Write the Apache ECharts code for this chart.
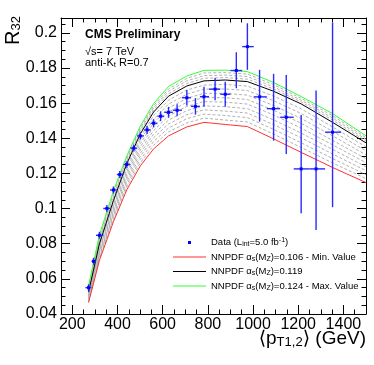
<!DOCTYPE html>
<html>
<head>
<meta charset="utf-8">
<script src="https://cdn.jsdelivr.net/npm/echarts@6/dist/echarts.min.js"></script>
<style>
html, body { margin: 0; padding: 0; background: #fff; }
#chart { width: 374px; height: 365px; }
</style>
</head>
<body>
<div id="chart"></div>
<script>
// measured points: <pT1,2> (GeV), R32, bin edges and asymmetric errors
const dataX = [272, 294, 320, 353, 382, 410, 441, 472, 501, 531, 560, 591, 626, 664, 707, 745, 783, 832, 877, 926, 975, 1029, 1091, 1147, 1213, 1279, 1352];
const dataY = [0.0550, 0.0700, 0.0848, 0.1001, 0.1106, 0.1194, 0.1251, 0.1344, 0.1414, 0.1448, 0.1486, 0.1526, 0.1548, 0.1560, 0.1631, 0.1582, 0.1637, 0.1680, 0.1651, 0.1786, 0.1922, 0.1636, 0.1569, 0.1520, 0.1226, 0.1226, 0.1435];
const binEdges = [258, 285, 305, 337, 367, 397, 427, 457, 487, 517, 547, 577, 607, 645, 685, 725, 765, 805, 855, 900, 952, 1003, 1061, 1120, 1180, 1250, 1319, 1390];
const errUp = [0.0020, 0.0020, 0.0020, 0.0020, 0.0020, 0.0020, 0.0019, 0.0019, 0.0021, 0.0023, 0.0023, 0.0028, 0.0031, 0.0034, 0.0044, 0.0047, 0.0057, 0.0063, 0.0071, 0.0104, 0.0133, 0.0154, 0.0198, 0.0241, 0.0307, 0.0446, 0.0624];
const errDown = [0.0020, 0.0020, 0.0020, 0.0020, 0.0020, 0.0020, 0.0019, 0.0019, 0.0021, 0.0023, 0.0023, 0.0028, 0.0031, 0.0034, 0.0044, 0.0047, 0.0057, 0.0063, 0.0071, 0.0101, 0.0132, 0.0141, 0.0182, 0.0209, 0.0253, 0.0348, 0.0427];

// NNPDF predictions
const thX = [272, 320, 382, 441, 501, 560, 626, 707, 783, 877, 975, 1091, 1213, 1352, 1500];
const nnpdfMin = [0.0465, 0.0705, 0.0925, 0.1106, 0.1243, 0.1340, 0.1414, 0.1465, 0.1491, 0.1479, 0.1467, 0.1397, 0.1320, 0.1234, 0.1148];
const nnpdfCentral = [0.0525, 0.0800, 0.1045, 0.1255, 0.1425, 0.1550, 0.1640, 0.1698, 0.1727, 0.1732, 0.1723, 0.1668, 0.1596, 0.1491, 0.1374];
const nnpdfMax = [0.0560, 0.0850, 0.1100, 0.1300, 0.1470, 0.1598, 0.1695, 0.1755, 0.1787, 0.1788, 0.1780, 0.1718, 0.1638, 0.1541, 0.1414];
const nnpdfOther = [
  [0.0471, 0.0715, 0.0937, 0.1121, 0.1261, 0.1361, 0.1437, 0.1488, 0.1515, 0.1504, 0.1493, 0.1424, 0.1348, 0.1260, 0.1171],
  [0.0477, 0.0724, 0.0949, 0.1136, 0.1279, 0.1382, 0.1459, 0.1512, 0.1538, 0.1530, 0.1518, 0.1451, 0.1375, 0.1285, 0.1193],
  [0.0483, 0.0734, 0.0961, 0.1151, 0.1298, 0.1403, 0.1482, 0.1535, 0.1562, 0.1555, 0.1544, 0.1478, 0.1403, 0.1311, 0.1216],
  [0.0489, 0.0743, 0.0973, 0.1166, 0.1316, 0.1424, 0.1504, 0.1558, 0.1585, 0.1580, 0.1569, 0.1505, 0.1430, 0.1337, 0.1238],
  [0.0495, 0.0753, 0.0985, 0.1181, 0.1334, 0.1445, 0.1527, 0.1582, 0.1609, 0.1606, 0.1595, 0.1533, 0.1458, 0.1363, 0.1261],
  [0.0501, 0.0762, 0.0997, 0.1195, 0.1352, 0.1466, 0.1550, 0.1605, 0.1633, 0.1631, 0.1621, 0.1560, 0.1486, 0.1388, 0.1284],
  [0.0507, 0.0772, 0.1009, 0.1210, 0.1370, 0.1487, 0.1572, 0.1628, 0.1656, 0.1656, 0.1646, 0.1587, 0.1513, 0.1414, 0.1306],
  [0.0513, 0.0781, 0.1021, 0.1225, 0.1389, 0.1508, 0.1595, 0.1651, 0.1680, 0.1681, 0.1672, 0.1614, 0.1541, 0.1440, 0.1329],
  [0.0519, 0.0791, 0.1033, 0.1240, 0.1407, 0.1529, 0.1617, 0.1675, 0.1703, 0.1707, 0.1697, 0.1641, 0.1568, 0.1465, 0.1351],
  [0.0534, 0.0813, 0.1059, 0.1266, 0.1436, 0.1562, 0.1654, 0.1712, 0.1742, 0.1746, 0.1737, 0.1681, 0.1607, 0.1504, 0.1384],
  [0.0543, 0.0825, 0.1073, 0.1278, 0.1448, 0.1574, 0.1668, 0.1727, 0.1757, 0.1760, 0.1752, 0.1693, 0.1617, 0.1516, 0.1394],
  [0.0551, 0.0838, 0.1086, 0.1289, 0.1459, 0.1586, 0.1681, 0.1741, 0.1772, 0.1774, 0.1766, 0.1706, 0.1628, 0.1529, 0.1404]
];

const xTickLabels = [200, 400, 600, 800, 1000, 1200, 1400];

const FONT = "'Liberation Sans', Arial, 'DejaVu Sans', sans-serif";

let chart = echarts.init(document.getElementById('chart'));

function curve(ys) {
  return thX.map(function (x, i) { return [x, ys[i]]; });
}

let series = [];
nnpdfOther.forEach(function (ys, k) {
  series.push({
    name: 'other' + k,
    type: 'line',
    data: curve(ys),
    symbol: 'none',
    silent: true,
    lineStyle: { color: '#b2b2b2', width: 1, type: [3, 2] },
    z: 2
  });
});
series.push({ name: 'min', type: 'line', data: curve(nnpdfMin), symbol: 'none', lineStyle: { color: '#ff3030', width: 1 }, itemStyle: { color: '#ff3030' }, z: 3 });
series.push({ name: 'central', type: 'line', data: curve(nnpdfCentral), symbol: 'none', lineStyle: { color: '#000', width: 1 }, itemStyle: { color: '#000' }, z: 3 });
series.push({ name: 'max', type: 'line', data: curve(nnpdfMax), symbol: 'none', lineStyle: { color: '#33ff33', width: 1 }, itemStyle: { color: '#33ff33' }, z: 3 });

// data points with x (bin) and y error bars
series.push({
  name: 'data',
  type: 'custom',
  itemStyle: { color: '#0000ff' },
  data: dataX.map(function (x, i) {
    return [x, dataY[i], binEdges[i], binEdges[i + 1], dataY[i] - errDown[i], dataY[i] + errUp[i]];
  }),
  encode: { x: 0, y: 1 },
  renderItem: function (params, api) {
    let c = api.coord([api.value(0), api.value(1)]);
    let l = api.coord([api.value(2), api.value(1)]);
    let r = api.coord([api.value(3), api.value(1)]);
    let b = api.coord([api.value(0), api.value(4)]);
    let t = api.coord([api.value(0), api.value(5)]);
    let st = { stroke: '#2a2aff', lineWidth: 1.4 };
    return {
      type: 'group',
      children: [
        { type: 'line', shape: { x1: l[0], y1: c[1], x2: r[0], y2: c[1] }, style: st },
        { type: 'line', shape: { x1: c[0], y1: t[1], x2: c[0], y2: b[1] }, style: st },
        { type: 'rect', shape: { x: c[0] - 1.5, y: c[1] - 1.5, width: 3, height: 3 }, style: { fill: '#0000ff' } }
      ]
    };
  },
  z: 20
});

const tickLine = { color: '#000', width: 1 };
const subStyle = { fontSize: 7, fontFamily: FONT, verticalAlign: 'bottom', lineHeight: 8, color: '#000' };
const supStyle = { fontSize: 7, fontFamily: FONT, verticalAlign: 'top', lineHeight: 8, color: '#000' };
const legendText = {
  data: 'Data (L{s|int}=5.0 fb{p|-1})',
  min: 'NNPDF α{s|s}(M{s|Z})=0.106 - Min. Value',
  central: 'NNPDF α{s|s}(M{s|Z})=0.119',
  max: 'NNPDF α{s|s}(M{s|Z})=0.124 - Max. Value'
};
const lineIcon = 'path://M0,0M33,10M0,4.5h33v1h-33z';

let option = {
  animation: false,
  backgroundColor: '#fff',
  grid: { left: 61, right: 8, top: 18, bottom: 51 },
  xAxis: [
    {
      type: 'value', position: 'bottom', min: 150, max: 1500, interval: 50,
      axisLine: { show: true, lineStyle: tickLine },
      axisTick: { show: true, inside: true, length: 4.5, lineStyle: tickLine },
      axisLabel: {
        customValues: xTickLabels, fontSize: 16, fontFamily: FONT, color: '#000', margin: 3,
        formatter: function (v) { return String(v); }
      },
      splitLine: { show: false }
    },
    {
      type: 'value', position: 'bottom', min: 150, max: 1500, interval: 50,
      axisLine: { show: false },
      axisTick: { show: true, inside: true, length: 9, customValues: xTickLabels, lineStyle: tickLine },
      axisLabel: { show: false },
      splitLine: { show: false }
    },
    {
      type: 'value', position: 'top', min: 150, max: 1500, interval: 50,
      axisLine: { show: true, lineStyle: tickLine },
      axisTick: { show: true, inside: true, length: 4.5, lineStyle: tickLine },
      axisLabel: { show: false },
      splitLine: { show: false }
    },
    {
      type: 'value', position: 'top', min: 150, max: 1500, interval: 50,
      axisLine: { show: false },
      axisTick: { show: true, inside: true, length: 9, customValues: xTickLabels, lineStyle: tickLine },
      axisLabel: { show: false },
      splitLine: { show: false }
    }
  ],
  yAxis: [
    {
      type: 'value', position: 'left', min: 0.04, max: 0.2085, interval: 0.02,
      axisLine: { show: true, lineStyle: tickLine },
      axisTick: { show: true, inside: true, length: 9, lineStyle: tickLine },
      minorTick: { show: true, splitNumber: 4, length: 4.5, lineStyle: tickLine },
      axisLabel: {
        fontSize: 16, fontFamily: FONT, color: '#000', margin: 4, showMaxLabel: false,
        formatter: function (v) { return String(+v.toFixed(3)); }
      },
      splitLine: { show: false }
    },
    {
      type: 'value', position: 'right', min: 0.04, max: 0.2085, interval: 0.02,
      axisLine: { show: true, lineStyle: tickLine },
      axisTick: { show: true, inside: true, length: 9, lineStyle: tickLine },
      minorTick: { show: true, splitNumber: 4, length: 4.5, lineStyle: tickLine },
      axisLabel: { show: false },
      splitLine: { show: false }
    }
  ],
  legend: {
    orient: 'vertical', left: 168, top: 232,
    itemWidth: 33, itemHeight: 10, itemGap: 3.5,
    selectedMode: false,
    data: [
      { name: 'data', icon: 'path://M0,0M33,10M15,3.5h3v3h-3z' },
      { name: 'min', icon: lineIcon },
      { name: 'central', icon: lineIcon },
      { name: 'max', icon: lineIcon }
    ],
    formatter: function (name) { return legendText[name]; },
    textStyle: {
      fontSize: 9.5, fontFamily: FONT, color: '#000', lineHeight: 11,
      rich: { s: subStyle, p: supStyle }
    }
  },
  graphic: [
    { type: 'text', x: 85, y: 34.5, style: { text: 'CMS Preliminary', font: 'bold 12px ' + FONT, fill: '#000', verticalAlign: 'middle' } },
    { type: 'text', x: 85, y: 51.5, style: { text: '√s= 7 TeV', font: '11px ' + FONT, fill: '#000', verticalAlign: 'middle' } },
    {
      type: 'text', x: 85, y: 63,
      style: {
        text: 'anti-K{s|t} R=0.7', font: '11px ' + FONT, fill: '#000', verticalAlign: 'middle',
        rich: { s: { fontSize: 8, fontFamily: FONT, verticalAlign: 'bottom', lineHeight: 9 } }
      }
    },
    {
      type: 'text', x: 3, y: 16, rotation: Math.PI / 2,
      style: {
        text: '{r|R}{s|32}', align: 'right', verticalAlign: 'top', fill: '#000',
        rich: {
          r: { fontSize: 20, fontFamily: FONT, lineHeight: 20, verticalAlign: 'top' },
          s: { fontSize: 13, fontFamily: FONT, lineHeight: 13, verticalAlign: 'bottom' }
        }
      }
    },
    {
      type: 'text', x: 366, y: 329,
      style: {
        text: '{a|⟨p}{s|T1,2}{a|⟩ (GeV)}', align: 'right', verticalAlign: 'top', fill: '#000',
        rich: {
          a: { fontSize: 19, fontFamily: FONT, lineHeight: 20, verticalAlign: 'top' },
          s: { fontSize: 13, fontFamily: FONT, lineHeight: 13, verticalAlign: 'bottom' }
        }
      }
    }
  ],
  series: series
};
chart.setOption(option);
</script>
</body>
</html>
